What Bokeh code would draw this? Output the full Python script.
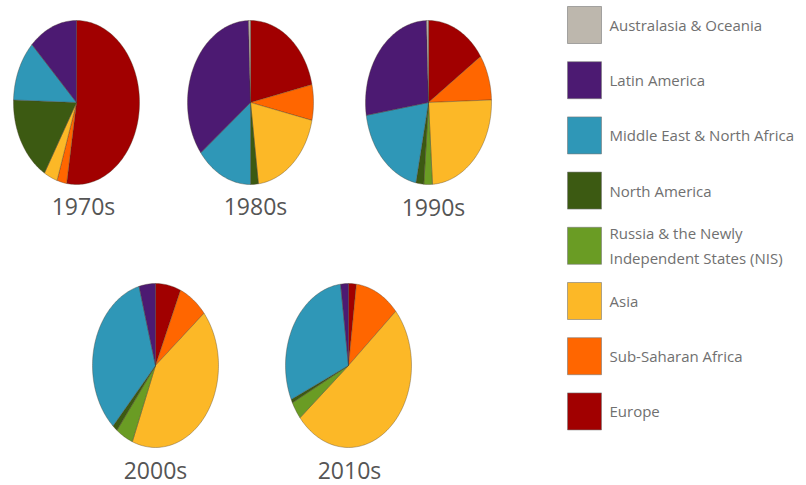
import math
from bokeh.plotting import figure
from bokeh.models import ColumnDataSource
from bokeh.core.properties import value
from bokeh.embed import file_html
from bokeh.resources import INLINE

# ---- data (percent shares) ----
decades = ["1970s", "1980s", "1990s", "2000s", "2010s"]
regions = ["Europe", "Sub-Saharan Africa", "Asia", "Russia & the Newly\nIndependent States (NIS)",
           "North America", "Middle East & North Africa", "Latin America", "Australasia & Oceania"]
europe = [52.5, 21.5, 15.5, 6.5, 2.0]
sub_saharan = [2.5, 7.0, 9.0, 7.5, 11.5]
asia = [3.5, 19.5, 24.5, 42.0, 50.5]
russia_nis = [0.0, 0.0, 2.2, 4.5, 3.5]
north_america = [17.0, 2.0, 2.0, 1.3, 0.7]
mena = [12.0, 14.5, 19.3, 34.0, 29.8]
latin_america = [12.5, 35.0, 27.0, 4.2, 2.0]
australasia = [0.0, 0.5, 0.5, 0.0, 0.0]
series = [europe, sub_saharan, asia, russia_nis, north_america, mena, latin_america, australasia]
colors = ["#a10000", "#ff6600", "#fcb827", "#6a9c24", "#3c5a12", "#2f97b7", "#4c1a72", "#bdb7ad"]
legend_order = [7, 6, 5, 4, 3, 2, 1, 0]

# ---- layout ----
W, H = 806, 485
centers = [(76, 102), (250, 102), (428, 102), (155, 365), (348, 365)]
label_pos = [(83, 205), (255, 205), (433, 206), (155, 469), (349, 469)]
RX, RY = 63, 82

p = figure(width=W, height=H, x_range=(0, W), y_range=(H, 0),
           output_backend="svg", toolbar_location=None, min_border=0)
p.axis.visible = False
p.grid.visible = False
p.outline_line_color = None
p.background_fill_color = "white"

xs, ys, fc = [], [], []
for d in range(len(decades)):
    vals = [s[d] for s in series]
    tot = sum(vals)
    cx, cy = centers[d]
    a0 = 0.0
    for k, v in enumerate(vals):
        if v <= 0:
            continue
        a1 = a0 + 2 * math.pi * v / tot
        n = max(3, int(abs(a1 - a0) * 40))
        px = [cx]
        py = [cy]
        for i in range(n + 1):
            t = a0 + (a1 - a0) * i / n
            px.append(cx + RX * math.sin(t))
            py.append(cy - RY * math.cos(t))
        xs.append(px)
        ys.append(py)
        fc.append(colors[k])
        a0 = a1

src = ColumnDataSource(dict(xs=xs, ys=ys, fc=fc))
p.patches("xs", "ys", source=src, fill_color="fc", line_color="#4a3a2a",
          line_alpha=0.45, line_width=0.8)

# decade labels
p.text(x=[q[0] for q in label_pos], y=[q[1] for q in label_pos], text=decades,
       text_font=value("Open Sans"), text_font_size="23px", text_color="#555555",
       text_align="center", text_baseline="middle")

# legend
sq_y0, sq_step = 24.5, 55.2
ly, lc, lt = [], [], []
for i, k in enumerate(legend_order):
    ly.append(sq_y0 + i * sq_step)
    lc.append(colors[k])
    lt.append(regions[k])
p.rect(x=[584] * len(ly), y=ly, width=34, height=37, fill_color=lc,
       line_color="#7a7a7a", line_alpha=0.6, line_width=1)
p.text(x=[609] * len(ly), y=ly, text=lt, text_font=value("Open Sans"),
       text_font_size="15px", text_color="#707070", text_align="left",
       text_baseline="middle", text_line_height=1.25)

open("out.html", "w").write(file_html(p, INLINE))
